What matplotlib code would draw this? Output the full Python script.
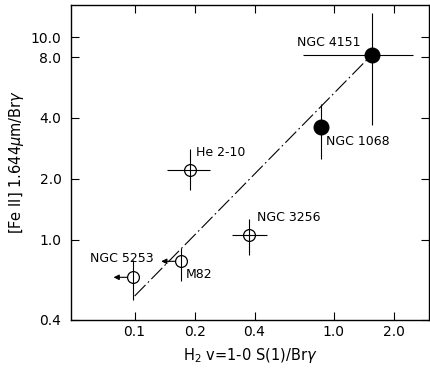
import matplotlib
matplotlib.use("Agg")
import matplotlib.pyplot as plt
from matplotlib.ticker import FixedLocator, FixedFormatter, NullLocator
import numpy as np

# galaxies (H2/Brg, [FeII]/Brg)
names = ["NGC 4151", "NGC 1068", "He 2-10", "NGC 3256", "M82", "NGC 5253"]
h2 = [1.55, 0.86, 0.19, 0.375, 0.17, 0.098]
fe = [8.2, 3.6, 2.2, 1.05, 0.78, 0.65]
h2_lo = [0.70, 0.86, 0.145, 0.31, 0.17, 0.098]
h2_hi = [2.5, 0.86, 0.24, 0.46, 0.17, 0.098]
fe_lo = [3.7, 2.5, 1.76, 0.84, 0.62, 0.50]
fe_hi = [13.2, 4.7, 2.8, 1.26, 0.91, 0.79]
filled = [True, True, False, False, False, False]
upper_lim = [False, False, False, False, True, True]

# fitted line end points
fit_x = [0.1, 1.55]
fit_y = [0.525, 8.2]

xticks = [0.1, 0.2, 0.4, 1.0, 2.0]
yticks = [0.4, 1.0, 2.0, 4.0, 8.0, 10.0]

fig = plt.figure(figsize=(4.31, 3.72), dpi=100)
ax = fig.add_axes([0.165, 0.14, 0.83, 0.847])
ax.set_xscale("log")
ax.set_yscale("log")
ax.set_xlim(0.048, 3.0)
ax.set_ylim(0.4, 14.5)

ax.plot(fit_x, fit_y, color="black", lw=0.8, dashes=(14, 3, 1.5, 3))

for i in range(len(names)):
    xe = [[h2[i] - h2_lo[i]], [h2_hi[i] - h2[i]]]
    ye = [[fe[i] - fe_lo[i]], [fe_hi[i] - fe[i]]]
    ax.errorbar([h2[i]], [fe[i]], xerr=xe, yerr=ye, fmt="none",
                ecolor="black", elinewidth=0.8, capsize=0)
    if filled[i]:
        ax.plot(h2[i], fe[i], "o", color="black", ms=10.5, zorder=3)
    else:
        ax.plot(h2[i], fe[i], "o", mfc="none", mec="black", mew=0.9,
                ms=8.5, zorder=3)
    if upper_lim[i]:
        ax.annotate("", xy=(h2[i] * 0.8, fe[i]), xytext=(h2[i], fe[i]),
                    arrowprops=dict(arrowstyle="-|>", color="black", lw=0.8,
                                    mutation_scale=8, shrinkA=4, shrinkB=0))

lab_off = {
    "NGC 4151": (-8, 4, "right", "bottom"),
    "NGC 1068": (4, -6, "left", "top"),
    "He 2-10": (4, 8, "left", "bottom"),
    "NGC 3256": (6, 8, "left", "bottom"),
    "M82": (4, -5, "left", "top"),
    "NGC 5253": (-8, 9, "center", "bottom"),
}
for i, n in enumerate(names):
    dx, dy, ha, va = lab_off[n]
    ax.annotate(n, (h2[i], fe[i]), xytext=(dx, dy), textcoords="offset points",
                ha=ha, va=va, fontsize=9)

ax.xaxis.set_major_locator(FixedLocator(xticks))
ax.xaxis.set_major_formatter(FixedFormatter(["0.1", "0.2", "0.4", "1.0", "2.0"]))
ax.yaxis.set_major_locator(FixedLocator(yticks))
ax.yaxis.set_major_formatter(FixedFormatter(["0.4", "1.0", "2.0", "4.0", "8.0", "10.0"]))
ax.xaxis.set_minor_locator(NullLocator())
ax.yaxis.set_minor_locator(NullLocator())
ax.tick_params(direction="in", top=True, right=True, length=6, width=0.8,
               labelsize=10)
ax.tick_params(axis="x", pad=4)
ax.tick_params(axis="y", pad=7)
for s in ax.spines.values():
    s.set_linewidth(1.0)

ax.set_xlabel(r"H$_2$ v=1-0 S(1)/Br$\gamma$", fontsize=10.5, labelpad=5)
ax.set_ylabel(r"[Fe II] 1.644$\mu$m/Br$\gamma$", fontsize=10.5, labelpad=3)

fig.savefig("out.png", dpi=100)
